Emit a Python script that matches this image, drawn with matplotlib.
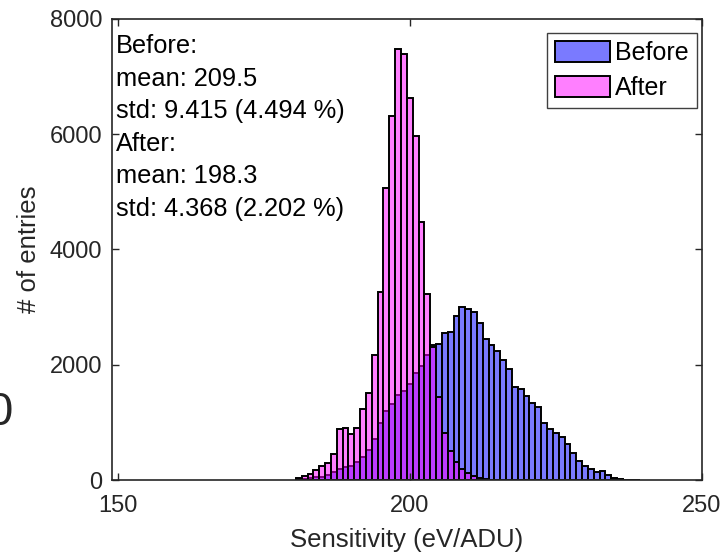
import numpy as np
import matplotlib
matplotlib.use("Agg")
import matplotlib.pyplot as plt

plt.rcParams['font.family'] = ['Liberation Sans', 'DejaVu Sans']

# bin centres (eV/ADU), bin width 1
before_bins = np.arange(181, 240)
before_counts = [10, 20, 30, 45, 60, 87, 144, 191, 220, 243,
                 318, 405, 515, 711, 995, 1197, 1318, 1475, 1550, 1660,
                 1851, 1970, 2169, 2342, 2360, 2556, 2563, 2851, 2996, 2961,
                 2909, 2718, 2440, 2342, 2243, 2082, 1926, 1619, 1573, 1457,
                 1330, 1261, 995, 879, 810, 752, 625, 470, 330, 248,
                 191, 133, 162, 87, 40, 15, 8, 5, 3]

after_bins = np.arange(181, 214)
after_counts = [30, 70, 100, 175, 245, 290, 450, 885, 908, 800,
                908, 1232, 1510, 2164, 3268, 5072, 6322, 7474, 7393, 6624,
                5975, 4472, 3222, 2313, 1435, 810, 503, 318, 191, 116,
                75, 40, 15]

stats_text = ["Before:", "mean: 209.5", "std: 9.415 (4.494 %)",
              "After:", "mean: 198.3", "std: 4.368 (2.202 %)"]

fig = plt.figure(figsize=(7.22, 5.53), dpi=100)
ax = fig.add_axes([0.155, 0.132, 0.817, 0.834])

ax.bar(before_bins, before_counts, width=1.0, facecolor=(0, 0, 1, 0.52),
       edgecolor='black', linewidth=1.4, label='Before')
ax.bar(after_bins, after_counts, width=1.0, facecolor=(1, 0, 1, 0.5),
       edgecolor='black', linewidth=1.4, label='After')

ax.set_xlim(149, 250)
ax.set_ylim(0, 8000)
ax.set_xticks([150, 200, 250])
ax.set_yticks([0, 2000, 4000, 6000, 8000])

dark = '#262626'
for s in ax.spines.values():
    s.set_color(dark)
    s.set_linewidth(1.2)
ax.tick_params(direction='in', length=5, width=1.0, colors=dark,
               labelsize=17, top=True, right=True)
ax.tick_params(axis='x', pad=11)
ax.tick_params(axis='y', pad=7)

ax.set_xlabel("Sensitivity (eV/ADU)", fontsize=18.5, color=dark, labelpad=8)
ax.set_ylabel("# of entries", fontsize=18.5, color=dark, labelpad=6)

ax.text(0.007, 0.967, "\n".join(stats_text), transform=ax.transAxes,
        ha='left', va='top', fontsize=18.3, linespacing=1.45, color='black')

leg = ax.legend(loc='upper right', bbox_to_anchor=(0.9915, 0.97), fontsize=18,
                handlelength=2.2, handleheight=0.95, handletextpad=0.2,
                labelspacing=0.42, borderpad=0.33, borderaxespad=0.0,
                fancybox=False, framealpha=1, edgecolor='#404040')
leg.get_frame().set_linewidth(1.0)

# clipped-off label from a neighbouring panel
fig.text(0.017, 1 - 413 / 553, "0", ha='right', va='center', fontsize=34,
         color=dark)

fig.savefig("out.png", dpi=100)
